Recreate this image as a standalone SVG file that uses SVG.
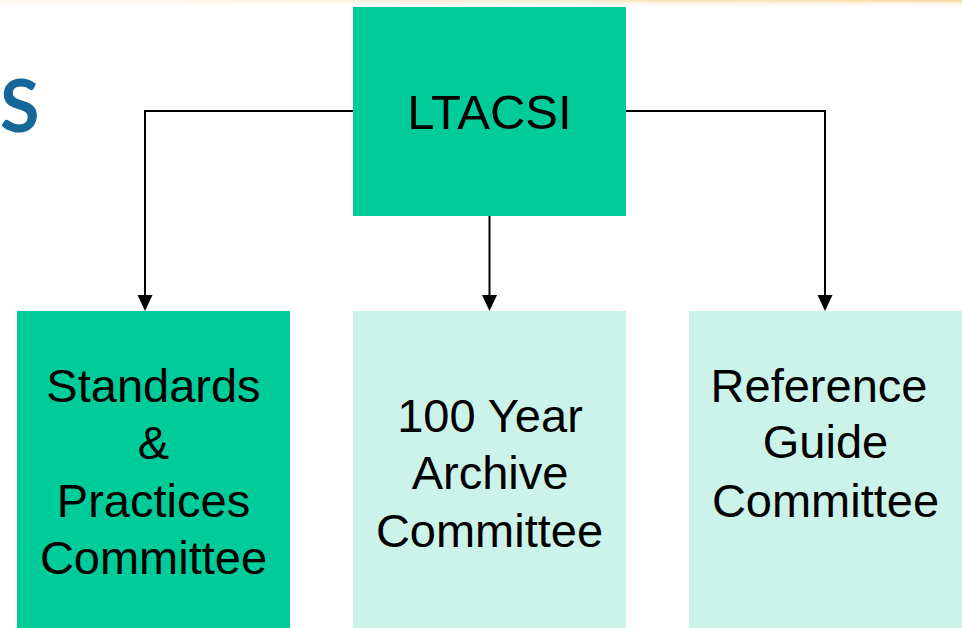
<svg xmlns="http://www.w3.org/2000/svg" width="962" height="628" viewBox="0 0 962 628">
<defs>
<linearGradient id="topband" x1="0" y1="0" x2="0" y2="1">
<stop offset="0" stop-color="#f7cf8a" stop-opacity="0.9"/>
<stop offset="1" stop-color="#ffffff" stop-opacity="0"/>
</linearGradient>
<linearGradient id="topfade" x1="0" y1="0" x2="1" y2="0">
<stop offset="0" stop-color="#ffffff" stop-opacity="0.85"/>
<stop offset="0.5" stop-color="#ffffff" stop-opacity="0.5"/>
<stop offset="1" stop-color="#ffffff" stop-opacity="0"/>
</linearGradient>
<style>
.dark{fill:#00cc99;}
.light{fill:#ccf3ea;}
.lbl{font-family:"Liberation Sans",Arial,sans-serif;font-size:47px;fill:#000;text-anchor:middle;}
.conn{fill:none;stroke:#000;stroke-width:2;}
.head{fill:#000;}
</style>
</defs>
<rect width="962" height="628" fill="#ffffff"/>
<rect x="0" y="0" width="962" height="8" fill="url(#topband)"/>
<rect x="0" y="0" width="962" height="8" fill="url(#topfade)"/>
<text x="0" y="132" font-family="Lato,'Open Sans',sans-serif" font-size="72" font-weight="bold" fill="#15679a">S</text>
<g id="connectors">
<path class="conn" d="M353,111 H145 V295"/>
<path class="conn" d="M626,111 H825 V295"/>
<path class="conn" d="M489.5,216 V295"/>
<path class="head" d="M137.5,295 L152.5,295 L145,311 Z"/>
<path class="head" d="M817.5,295 L832.5,295 L825,311 Z"/>
<path class="head" d="M482,295 L497,295 L489.5,311 Z"/>
</g>
<g id="ltacsi">
<rect class="dark" x="353" y="7" width="273" height="209"/>
<text class="lbl" x="489.5" y="129" style="font-size:49px">LTACSI</text>
</g>
<g id="standards">
<rect class="dark" x="17" y="311" width="273" height="317"/>
<text class="lbl"><tspan x="153.5" y="402">Standards</tspan><tspan x="153.5" y="459">&amp;</tspan><tspan x="153.5" y="517">Practices</tspan><tspan x="153.5" y="574">Committee</tspan></text>
</g>
<g id="archive">
<rect class="light" x="353" y="311" width="273" height="317"/>
<text class="lbl"><tspan x="490" y="432">100 Year</tspan><tspan x="490" y="489">Archive</tspan><tspan x="489.5" y="547">Committee</tspan></text>
</g>
<g id="reference">
<rect class="light" x="689" y="311" width="273" height="317"/>
<text class="lbl"><tspan x="819" y="402">Reference</tspan><tspan x="825.5" y="458">Guide</tspan><tspan x="825.5" y="517">Committee</tspan></text>
</g>
</svg>
